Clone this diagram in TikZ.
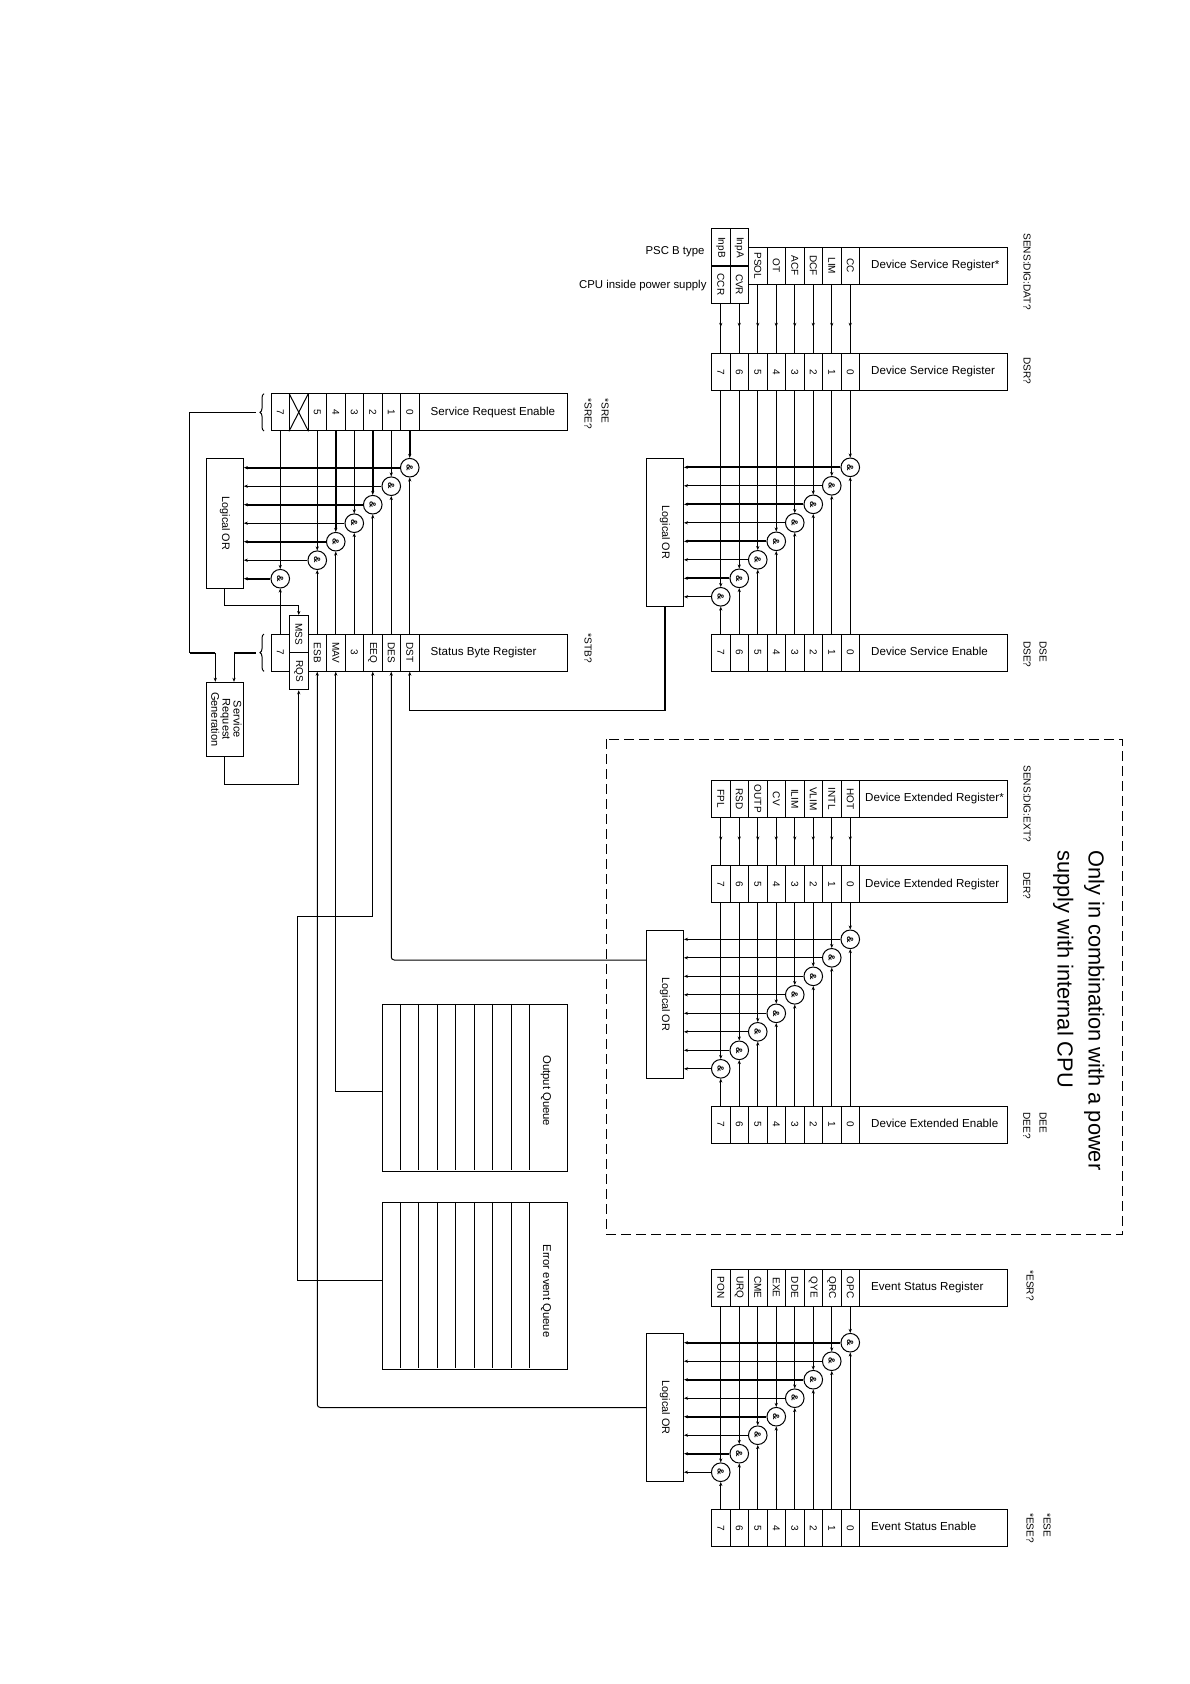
\documentclass[tikz,border=0pt]{standalone}
\usepackage{fontspec}
\setmainfont{Liberation Sans}
\usetikzlibrary{arrows.meta, decorations.pathreplacing}

% row of bit cells with its title box: name, left edge, centre y, bit/label list, title
\newcommand{\bitrow}[5]{
    \foreach \bit/\lab in {#4} {
        \pgfmathsetmacro{\cellx}{#2+18.5*(7.5-\bit)}
        \node[bitcell] (#1\bit) at (\cellx,#3) {\rotatebox{-90}{\lab}};
    }
    \pgfmathsetmacro{\titlex}{#2+222}
    \node[titlecell] (#1title) at (\titlex,#3) {\raisebox{-0.5pt}{\makebox[124.6pt][l]{\vphantom{Dg}#5}}};
}

% AND gates between two rows: top, bottom, OR box, first y, bit/slot list, wire width, top line width
\newcommand{\gatechain}[7]{
    \foreach \bit/\slot in {#5} {
        \pgfmathsetmacro{\gatey}{#4+18.5*\slot}
        \pgfmathsetmacro{\wirew}{ifthenelse(mod(\slot,2)==0,#6,1)}
        \pgfmathsetmacro{\topw}{ifthenelse(mod(\bit,2)==0,#7,1)}
        \node[gate] (#1gate\bit) at (#1\bit |- 0,\gatey) {\rotatebox{-90}{\&}};
        \draw[arrow, line width=\topw pt] (#1\bit.south) -- (#1gate\bit.north);
        \draw[arrow] (#2\bit.north) -- (#1gate\bit.south);
        \draw[arrow, line width=\wirew pt] (#1gate\bit.west) -- (#1gate\bit.west -| #3.east);
    }
}

\begin{document}
\begin{tikzpicture}[
    x=1pt,
    y=-1pt,
    line width=1pt,
    bitcell/.style={
        rectangle,
        draw,
        inner sep=0pt,
        minimum width=18.5pt,
        minimum height=37pt,
        font=\fontsize{10}{11}\selectfont
    },
    titlecell/.style={
        rectangle,
        draw,
        inner sep=0pt,
        minimum width=148pt,
        minimum height=37pt,
        font=\fontsize{11.6}{13}\selectfont
    },
    orbox/.style={
        rectangle,
        draw,
        inner sep=0pt,
        minimum width=37pt,
        font=\fontsize{10.8}{12}\selectfont
    },
    queuebox/.style={
        rectangle,
        draw,
        inner sep=0pt,
        minimum width=185.3pt,
        minimum height=166.7pt
    },
    gate/.style={
        circle,
        draw,
        inner sep=0pt,
        minimum size=18.6pt,
        font=\bfseries\fontsize{9}{10}\selectfont
    },
    cmdlabel/.style={
        rotate=-90,
        anchor=west,
        inner sep=0pt,
        font=\fontsize{10.1}{11}\selectfont
    },
    sidenote/.style={
        anchor=east,
        inner sep=0pt,
        font=\fontsize{11.4}{13}\selectfont
    },
    arrow/.style={
        -{Stealth[length=4pt,width=3.2pt]}
    }
]
\useasboundingbox (0,0) rectangle (1190,1684);

% device service group
\node[bitcell] (dat7up) at (720.75,247.4) {\rotatebox{-90}{InpB}};
\node[bitcell] (dat7) at (720.75,284.6) {\rotatebox{-90}{CCR}};
\node[bitcell] (dat6up) at (739.25,247.4) {\rotatebox{-90}{InpA}};
\node[bitcell] (dat6) at (739.25,284.6) {\rotatebox{-90}{CVR}};
\bitrow{dat}{711.5}{265.8}{5/PSOL,4/OT,3/ACF,2/DCF,1/LIM,0/CC}{Device Service Register*}
\bitrow{dsr}{711.5}{371.8}{7/7,6/6,5/5,4/4,3/3,2/2,1/1,0/0}{Device Service Register}
\bitrow{dse}{711.5}{652.7}{7/7,6/6,5/5,4/4,3/3,2/2,1/1,0/0}{Device Service Enable}
\node[orbox, minimum height=148pt] (dsror) at (665,532.3) {\rotatebox{-90}{Logical OR}};
\foreach \bit in {0,...,7} {
    \draw (dat\bit.south) -- (dsr\bit.north);
    \draw[arrow] (dat\bit.south) -- ([yshift=26pt]dsr\bit.north);
}
\gatechain{dsr}{dse}{dsror}{467.3}{0/0,1/1,2/2,3/3,4/4,5/5,6/6,7/7}{2}{1}

\node[sidenote] (pscnote) at (705,252) {PSC B type};
\node[sidenote] (cpunote) at (707,285.5) {CPU inside power supply};
\node[cmdlabel] (datcmd) at (1027,233) {SENS:DIG:DAT?};
\node[cmdlabel] (dsrcmd) at (1027,357) {DSR?};
\node[cmdlabel] (dsecmd) at (1043,640.7) {DSE};
\node[cmdlabel] (dsequery) at (1027,640.7) {DSE?};

% status byte group
\bitrow{sre}{271}{412.3}{7/7,6/{},5/5,4/4,3/3,2/2,1/1,0/0}{Service Request Enable}
\bitrow{stb}{271}{652.7}{7/7,5/ESB,4/MAV,3/3,2/EEQ,1/DES,0/DST}{Status Byte Register}
\node[bitcell] (mss) at (298.75,634) {\rotatebox{-90}{MSS}};
\node[bitcell] (rqs) at (298.75,671.3) {\rotatebox{-90}{RQS}};
\draw (sre6.north west) -- (sre6.south east);
\draw (sre6.south west) -- (sre6.north east);
\node[orbox, minimum height=130pt] (sreor) at (224.8,523.3) {\rotatebox{-90}{Logical OR}};
\gatechain{sre}{stb}{sreor}{467.7}{0/0,1/1,2/2,3/3,4/4,5/5,7/6}{2}{2}
\node[orbox, minimum height=74pt] (srg) at (224.8,719.3) {\rotatebox{-90}{\fontsize{11}{11}\selectfont\begin{tabular}{@{}c@{}}Service\\Request\\Generation\end{tabular}}};

\draw[decorate, decoration={brace, amplitude=4pt}] (264,431) -- (264,393.7);
\draw[decorate, decoration={brace, amplitude=4pt}] (264,671.3) -- (264,634);
\coordinate (srebrace) at (255.5,412.3);
\coordinate (stbbrace) at (255.5,652.7);
\coordinate (srgleft) at (215.3,652.7);
\coordinate (srgright) at (234,652.7);

\draw (srebrace) -- (189.7,412.3) -- (189.7,652.7);
\draw[line width=2pt] (189.7,652.7) -- (srgleft);
\draw[arrow] (srgleft) -- (srgleft |- srg.north);
\draw[line width=2pt] (stbbrace) -- (srgright);
\draw[arrow] (srgright) -- (srgright |- srg.north);
\draw[arrow] (sreor.south) -- ++(0,16.5) -| (mss.north);
\draw[arrow] (srg.south) -- ++(0,28) -| (rqs.south);
\draw[arrow, line width=1.3pt] (dsror.south) -- ++(0,103.7) -| (stb0.south);

\node[cmdlabel] (srecmd) at (605,398) {*SRE};
\node[cmdlabel] (srequery) at (588,398) {*SRE?};
\node[cmdlabel] (stbquery) at (588,633) {*STB?};

% queues
\node[queuebox] (outq) at (474.7,1087.7) {};
\node[queuebox] (errq) at (474.7,1285.7) {};
\foreach \k in {1,...,8} {
    \draw ([xshift=18.5*\k pt]outq.north west) -- ([xshift=18.5*\k pt, yshift=2pt]outq.south west);
    \draw ([xshift=18.5*\k pt]errq.north west) -- ([xshift=18.5*\k pt, yshift=2pt]errq.south west);
}
\node[rotate=-90, inner sep=0pt, font=\fontsize{11.3}{13}\selectfont] (outqtext) at (546,1090.7) {Output Queue};
\node[rotate=-90, inner sep=0pt, font=\fontsize{11.3}{13}\selectfont] (errqtext) at (546,1291) {Error event Queue};
\coordinate (outqin) at (382,1091);
\coordinate (errqin) at (382,1280);
\coordinate (errqbend) at (297.3,916);
\draw[arrow] (outqin) -| (stb4.south);
\draw[arrow] (errqin) -| (errqbend) -| (stb2.south);

% device extended group
\draw[dashed, dash pattern=on 10pt off 5pt] (606,739) rectangle (1122.5,1234);
\bitrow{ext}{711.5}{798.8}{7/FPL,6/RSD,5/OUTP,4/CV,3/ILIM,2/VLIM,1/INTL,0/HOT}{\hspace*{-6pt}Device Extended Register*}
\bitrow{der}{711.5}{884}{7/7,6/6,5/5,4/4,3/3,2/2,1/1,0/0}{\hspace*{-6pt}Device Extended Register}
\bitrow{dee}{711.5}{1124.7}{7/7,6/6,5/5,4/4,3/3,2/2,1/1,0/0}{Device Extended Enable}
\node[orbox, minimum height=148pt] (deror) at (665,1004.3) {\rotatebox{-90}{Logical OR}};
\foreach \bit in {0,...,7} {
    \draw (ext\bit.south) -- (der\bit.north);
    \draw[arrow] (ext\bit.south) -- ([yshift=24.5pt]der\bit.north);
}
\gatechain{der}{dee}{deror}{939.3}{0/0,1/1,2/2,3/3,4/4,5/5,6/6,7/7}{1}{1}
\coordinate (derout) at (646.5,960);
\draw[arrow, rounded corners=3pt] (derout) -| (stb1.south);

\node[cmdlabel] (extcmd) at (1027,765) {SENS:DIG:EXT?};
\node[cmdlabel] (dercmd) at (1027,872) {DER?};
\node[cmdlabel] (deecmd) at (1043,1112) {DEE};
\node[cmdlabel] (deequery) at (1027,1112) {DEE?};
\node[cmdlabel, font=\fontsize{21.8}{31}\selectfont, align=left, anchor=north west] (cpunotice) at (1105,850) {Only in combination with a power\\supply with internal CPU};

% event status group
\bitrow{esr}{711.5}{1287.5}{7/PON,6/URQ,5/CME,4/EXE,3/DDE,2/QYE,1/QRC,0/OPC}{Event Status Register}
\bitrow{ese}{711.5}{1527.8}{7/7,6/6,5/5,4/4,3/3,2/2,1/1,0/0}{Event Status Enable}
\node[orbox, minimum height=148pt] (esror) at (665,1407.5) {\rotatebox{-90}{Logical OR}};
\gatechain{esr}{ese}{esror}{1342.7}{0/0,1/1,2/2,3/3,4/4,5/5,6/6,7/7}{2}{1}
\draw[arrow, rounded corners=3pt] (esror.west) -| (stb5.south);

\node[cmdlabel] (esrquery) at (1030,1270) {*ESR?};
\node[cmdlabel] (esecmd) at (1047,1512.7) {*ESE};
\node[cmdlabel] (esequery) at (1030,1512.7) {*ESE?};

\end{tikzpicture}
\end{document}
